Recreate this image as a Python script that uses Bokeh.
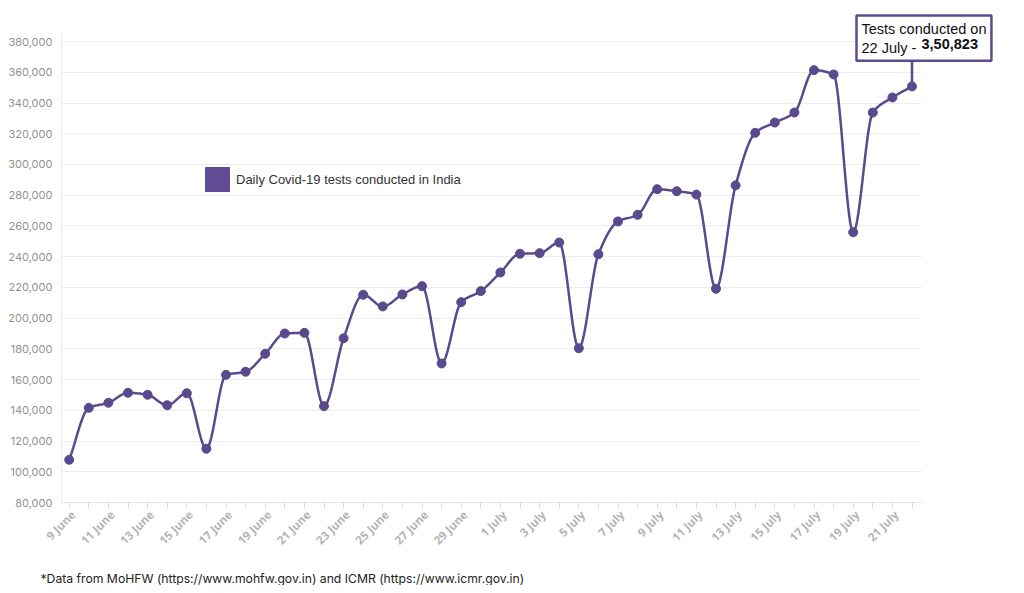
import numpy as np
from bokeh.plotting import figure
from bokeh.models import (FixedTicker, NumeralTickFormatter, Label, Legend, LegendItem, Range1d,
                          LinearAxis)
from bokeh.embed import file_html
from bokeh.resources import INLINE

# ---------------- data ----------------
dates = ["9 June", "10 June", "11 June", "12 June", "13 June", "14 June", "15 June",
         "16 June", "17 June", "18 June", "19 June", "20 June", "21 June", "22 June",
         "23 June", "24 June", "25 June", "26 June", "27 June", "28 June", "29 June",
         "30 June", "1 July", "2 July", "3 July", "4 July", "5 July", "6 July",
         "7 July", "8 July", "9 July", "10 July", "11 July", "12 July", "13 July",
         "14 July", "15 July", "16 July", "17 July", "18 July", "19 July", "20 July",
         "21 July", "22 July"]
tests = [107800, 141600, 144900, 151400, 150100, 143300, 151100,
         115000, 163100, 165100, 176800, 190000, 190400, 142700,
         186900, 215200, 207600, 215400, 220800, 170500, 210400,
         217600, 229700, 241900, 242300, 249200, 180400, 241600,
         262900, 267200, 283900, 282600, 280400, 219100, 286400,
         320600, 327300, 333800, 361400, 358600, 255900, 333800,
         343600, 350823]
y_ticks = list(range(80000, 380001, 20000))
legend_label = "Daily Covid-19 tests conducted in India"
annot_line1 = "Tests conducted on\n22 July - "
annot_value = "3,50,823"
footer = "*Data from MoHFW (https://www.mohfw.gov.in) and ICMR (https://www.icmr.gov.in)"

# ---------------- layout constants ----------------
W, H = 1005, 585
PURPLE = "#594a8d"
X_LO, X_HI = -0.4, 43.5          # data area (axis / grid extent)
Y_LO, Y_HI = 80000, 386000
PX_PER_X = 19.6                  # pixels per day
PX_PER_Y = 30.73 / 20000         # pixels per test
X0_PX, Y0_PX = 68.7, 502         # canvas position of (index 0, 80000)
LABEL_SHIFT = 0.2                # tick labels sit a little right of their tick
ANNOT_Y = 367700

x_start = -X0_PX / PX_PER_X
x_end = x_start + W / PX_PER_X
y_start = Y_LO - (H - Y0_PX) / PX_PER_Y
y_end = Y_LO + Y0_PX / PX_PER_Y

x = np.arange(len(tests), dtype=float)
y = np.asarray(tests, dtype=float)


def monotone(xs, ys, n=20):
    h = np.diff(xs)
    d = np.diff(ys) / h
    m = np.zeros_like(ys)
    m[0], m[-1] = d[0], d[-1]
    for i in range(1, len(ys) - 1):
        if d[i - 1] * d[i] <= 0:
            m[i] = 0.0
        else:
            w1 = 2 * h[i] + h[i - 1]
            w2 = h[i] + 2 * h[i - 1]
            m[i] = (w1 + w2) / (w1 / d[i - 1] + w2 / d[i])
    px, py = [], []
    for i in range(len(xs) - 1):
        t = np.linspace(0, 1, n, endpoint=False)
        h00 = 2 * t**3 - 3 * t**2 + 1
        h10 = t**3 - 2 * t**2 + t
        h01 = -2 * t**3 + 3 * t**2
        h11 = t**3 - t**2
        px.extend(xs[i] + t * h[i])
        py.extend(h00 * ys[i] + h10 * h[i] * m[i] + h01 * ys[i + 1] + h11 * h[i] * m[i + 1])
    px.append(xs[-1]); py.append(ys[-1])
    return np.array(px), np.array(py)


sx, sy = monotone(x, y)

p = figure(width=W, height=H, output_backend="svg", toolbar_location=None,
           x_range=Range1d(x_start, x_end), y_range=Range1d(y_start, y_end),
           min_border=0, min_border_left=0, min_border_right=0,
           min_border_top=0, min_border_bottom=0)
p.outline_line_color = None
p.background_fill_color = "white"
p.border_fill_color = "white"

p.line(sx, sy, line_color=PURPLE, line_width=2.5)
p.scatter(x, y, size=9, fill_color=PURPLE, line_color=PURPLE)

# legend
leg_r = p.quad(left=[np.nan], right=[np.nan], top=[np.nan], bottom=[np.nan],
               fill_color="#624b95", line_color="#624b95")
legend = Legend(items=[LegendItem(label=legend_label, renderers=[leg_r])],
                location=(202, 391), glyph_width=30, glyph_height=30, padding=0, margin=0,
                label_standoff=4, label_text_font="Liberation Sans", label_text_font_size="13px",
                label_text_color="#333333", border_line_alpha=0, background_fill_alpha=0)
p.add_layout(legend, "center")

# axes & grid
p.xgrid.grid_line_color = None
p.ygrid.grid_line_color = "#ededed"
p.ygrid.ticker = FixedTicker(ticks=y_ticks)
p.ygrid.cross_bounds = (X_LO, X_HI)

p.yaxis.fixed_location = X_LO
p.yaxis.bounds = (Y_LO, Y_HI)
p.yaxis.ticker = FixedTicker(ticks=y_ticks)
p.yaxis.formatter = NumeralTickFormatter(format="0,0")
p.yaxis.axis_line_color = "#ebebeb"
p.yaxis.major_tick_line_color = None
p.yaxis.minor_tick_line_color = None
p.yaxis.major_label_text_color = "#929292"
p.yaxis.major_label_text_font = "Inter"
p.yaxis.major_label_text_font_size = "11px"
p.yaxis.major_label_standoff = 3

# x axis: line + a tick mark for every day, no labels
p.xaxis.fixed_location = Y_LO
p.xaxis.bounds = (X_LO, X_HI)
p.xaxis.ticker = FixedTicker(ticks=list(range(len(dates))))
p.xaxis.major_label_text_alpha = 0
p.xaxis.axis_line_color = "#e6e6e6"
p.xaxis.major_tick_line_color = "#dddddd"
p.xaxis.major_tick_out = 6
p.xaxis.major_tick_in = 0
p.xaxis.minor_tick_line_color = None

# x tick labels (every other day)
lab_ticks = [i + LABEL_SHIFT for i in range(0, len(dates), 2)]
lab_axis = LinearAxis(fixed_location=Y_LO, ticker=FixedTicker(ticks=lab_ticks),
                      major_label_overrides={i + LABEL_SHIFT: dates[i] for i in range(0, len(dates), 2)},
                      major_label_orientation=np.pi / 4,
                      axis_line_color=None, major_tick_line_color=None, minor_tick_line_color=None,
                      major_tick_out=6, major_tick_in=0,
                      major_label_text_color="#b5b5b5", major_label_text_font="Open Sans",
                      major_label_text_font_style="bold", major_label_text_font_size="11.5px",
                      major_label_standoff=4)
p.add_layout(lab_axis, "below")

# annotation
p.segment(x0=[x[-1]], y0=[y[-1]], x1=[x[-1]], y1=[ANNOT_Y], line_color=PURPLE, line_width=2.5)
box = Label(x=856, y=570, x_units="screen", y_units="screen", text=annot_line1,
            text_font="Liberation Sans", text_font_size="14.5px", text_color="#111111",
            text_baseline="top", text_align="left", padding=5,
            border_line_color="#5e4b8b", border_line_width=2.5,
            background_fill_color="white")
p.add_layout(box)
val = Label(x=921, y=547, x_units="screen", y_units="screen", text=annot_value,
            text_font="Liberation Sans", text_font_size="14.5px", text_font_style="bold",
            text_color="#111111", text_baseline="top", text_align="left")
p.add_layout(val)

foot = Label(x=40, y=7, x_units="screen", y_units="screen", text=footer,
             text_font="Inter", text_font_size="12.2px", text_color="#222222",
             text_baseline="middle", text_align="left")
p.add_layout(foot)

open("out.html", "w").write(file_html(p, INLINE))
